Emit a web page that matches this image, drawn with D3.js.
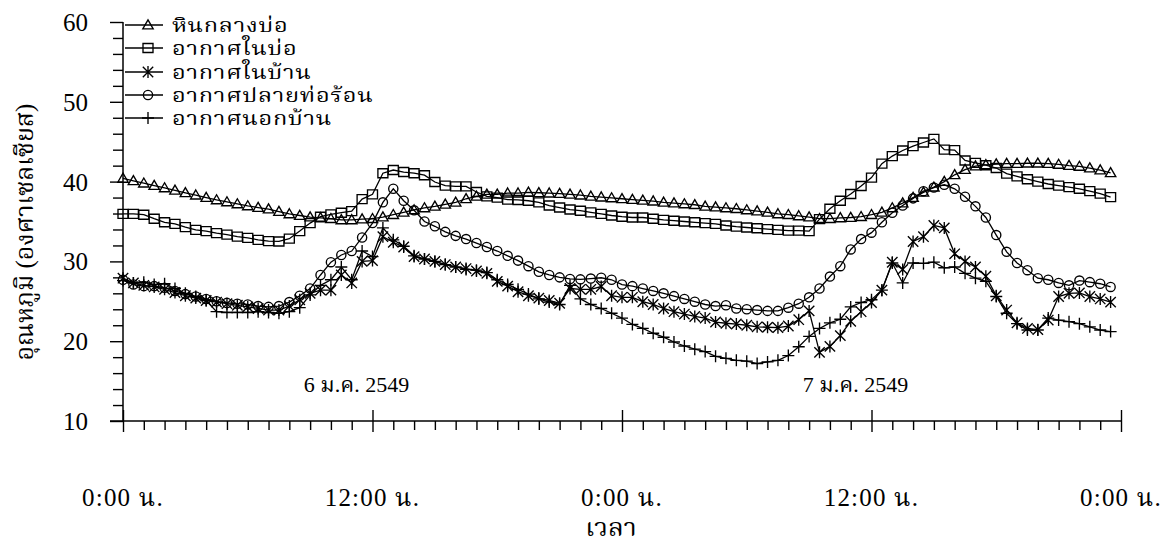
<!DOCTYPE html>
<html>
<head>
<meta charset="utf-8">
<script src="https://cdn.jsdelivr.net/npm/d3@7"></script>
<style>
  body { margin: 0; background: #fff; }
  svg text { font-family: "Liberation Serif", "Times New Roman", "Noto Serif Thai", "Noto Sans Thai", serif; fill: #000; }
</style>
</head>
<body>
<svg id="chart" width="1170" height="541"></svg>
<script>
// Half-hourly readings over two days (hours since 0:00 on 6 Jan 2549)
const hours = d3.range(0, 48, 0.5);

const seriesNames = ["หินกลางบ่อ", "อากาศในบ่อ", "อากาศในบ้าน", "อากาศปลายท่อร้อน", "อากาศนอกบ้าน"];

const rockInPit = [
  40.4, 40.1, 39.8, 39.5, 39.2, 38.9, 38.6, 38.3, 38.0, 37.7, 37.45, 37.2, 36.95, 36.75, 36.55, 36.25, 35.95, 35.75, 35.55, 35.45,
  35.35, 35.2, 35.2, 35.3, 35.35, 35.55, 35.85, 36.15, 36.45, 36.7, 36.9, 37.15, 37.4, 37.85, 38.15, 38.4, 38.4, 38.55, 38.55, 38.65,
  38.6, 38.55, 38.5, 38.4, 38.3, 38.15, 38.05, 37.95, 37.85, 37.75, 37.65, 37.55, 37.4, 37.3, 37.2, 37.1, 36.9, 36.8, 36.7, 36.6,
  36.45, 36.3, 36.15, 35.95, 35.85, 35.7, 35.55, 35.35, 35.35, 35.45, 35.5, 35.6, 35.85, 36.15, 36.7, 37.3, 38.0, 38.65, 39.3, 40.0,
  40.85, 41.5, 41.95, 42.1, 42.2, 42.25, 42.25, 42.3, 42.3, 42.25, 42.15, 42.0, 41.9, 41.7, 41.45, 41.1
];
const airInPit = [
  35.95, 35.95, 35.85, 35.35, 34.9, 34.7, 34.3, 33.95, 33.8, 33.55, 33.35, 33.1, 32.95, 32.7, 32.55, 32.5, 32.85, 33.8, 34.8, 35.6,
  35.9, 36.1, 36.3, 37.8, 38.4, 41.05, 41.45, 41.2, 41.05, 40.8, 39.95, 39.5, 39.4, 39.4, 38.7, 38.15, 38.0, 37.75, 37.7, 37.6,
  37.4, 37.0, 36.75, 36.5, 36.35, 36.15, 35.95, 35.75, 35.6, 35.5, 35.5, 35.35, 35.2, 35.1, 35.0, 34.9, 34.8, 34.7, 34.5, 34.35,
  34.25, 34.15, 34.05, 33.95, 33.85, 33.85, 33.8, 35.3, 36.6, 37.6, 38.45, 39.45, 40.5, 42.25, 43.2, 43.9, 44.45, 44.9, 45.35, 44.0,
  43.95, 42.65, 42.35, 42.05, 41.7, 41.0, 40.65, 40.3, 40.0, 39.7, 39.5, 39.3, 39.1, 38.8, 38.5, 38.05
];
const airInHouse = [
  27.9, 27.3, 27.0, 26.8, 26.5, 26.1, 25.7, 25.4, 25.1, 24.9, 24.7, 24.5, 24.3, 24.1, 23.9, 23.9, 24.4, 25.2, 26.0, 26.4,
  26.4, 28.3, 27.3, 30.0, 30.1, 33.1, 32.4, 31.8, 30.6, 30.3, 30.0, 29.6, 29.3, 29.1, 28.8, 28.5, 27.5, 26.9, 26.2, 25.7,
  25.4, 25.1, 24.75, 26.6, 26.5, 26.5, 26.85, 25.7, 25.5, 25.5, 24.95, 24.6, 24.1, 23.7, 23.4, 23.1, 22.9, 22.4, 22.25, 22.15,
  22.0, 21.8, 21.75, 21.7, 21.9, 22.7, 23.8, 18.6, 19.35, 20.7, 22.5, 23.7, 24.85, 26.4, 29.9, 29.0, 32.5, 33.1, 34.5, 34.2,
  30.95, 30.0, 29.3, 28.15, 25.7, 23.9, 22.3, 21.6, 21.45, 22.65, 25.6, 26.0, 26.05, 25.6, 25.3, 24.9
];
const hotPipeOutlet = [
  27.7, 27.1, 26.9, 26.9, 26.7, 26.3, 25.9, 25.6, 25.3, 25.0, 24.8, 24.7, 24.6, 24.4, 24.3, 24.4, 24.9, 25.7, 26.6, 28.3,
  29.9, 30.8, 31.3, 33.0, 34.8, 37.4, 39.1, 37.6, 36.4, 35.0, 34.4, 33.7, 33.2, 32.8, 32.3, 31.8, 31.3, 30.7, 30.1, 29.4,
  28.7, 28.3, 28.0, 27.8, 27.75, 27.85, 27.95, 27.7, 27.1, 26.9, 26.6, 26.3, 26.0, 25.65, 25.3, 24.95, 24.6, 24.4, 24.5, 24.1,
  24.0, 23.9, 23.8, 23.8, 24.2, 24.7, 25.5, 26.6, 28.1, 29.4, 31.5, 32.8, 33.6, 34.9, 36.1, 37.0, 37.9, 38.8, 39.25, 39.6,
  39.1, 38.1, 36.9, 35.5, 33.3, 31.2, 29.8, 28.9, 27.9, 27.7, 27.3, 27.0, 27.6, 27.4, 27.2, 26.8
];
const outdoorAir = [
  27.6, 27.3, 27.4, 27.1, 27.2, 26.6, 26.0, 25.6, 25.1, 23.7, 23.6, 23.6, 23.6, 23.7, 23.6, 23.5, 23.7, 24.2, 25.8, 27.0,
  27.7, 29.3, 27.7, 31.3, 30.6, 34.2, 32.7, 31.9, 30.7, 30.3, 30.0, 29.6, 29.3, 29.0, 28.9, 28.6, 27.7, 27.1, 26.5, 25.9,
  25.3, 24.9, 24.6, 27.0, 25.3, 24.6, 24.1, 23.5, 22.9, 22.1, 21.6, 21.0, 20.5, 19.9, 19.4, 19.0, 18.7, 18.1, 17.85, 17.6,
  17.5, 17.2, 17.4, 17.6, 18.2, 19.3, 20.6, 21.6, 22.3, 22.75, 24.3, 24.85, 25.2, 26.4, 29.8, 27.3, 29.8, 29.75, 29.9, 29.2,
  29.3, 28.5, 27.9, 27.5, 25.6, 23.5, 22.2, 21.4, 21.4, 22.9, 22.65, 22.45, 22.2, 21.8, 21.4, 21.2
];

const xTickHours = [0, 12, 24, 36, 48];
const xTickLabels = ["0:00 น.", "12:00 น.", "0:00 น.", "12:00 น.", "0:00 น."];
const dateLabels = ["6 ม.ค. 2549", "7 ม.ค. 2549"];
const dateHours = [12, 36];
const yTicks = [10, 20, 30, 40, 50, 60];
const yTitle = "อุณหภูมิ (องศาเซลเซียส)";
const xTitle = "เวลา";

const svg = d3.select("#chart");
const x = d3.scaleLinear().domain([0, 48]).range([123, 1121]);
const y = d3.scaleLinear().domain([10, 60]).range([421, 22]);

// marker shapes (all drawn open)
const markers = {
  triangle: "M0,-5.2L5.2,3.8L-5.2,3.8Z",
  square: "M-5,-4.5H5V4.5H-5Z",
  star: "M0,-6V6M-5.2,-5.2L5.2,5.2M-5.2,5.2L5.2,-5.2",
  circle: "M4.6,0A4.6,4.6 0 1 1 -4.6,0A4.6,4.6 0 1 1 4.6,0Z",
  plus: "M0,-6V6M-6,0H6"
};

const series = [
  { name: seriesNames[0], values: rockInPit, marker: "triangle" },
  { name: seriesNames[1], values: airInPit, marker: "square" },
  { name: seriesNames[2], values: airInHouse, marker: "star" },
  { name: seriesNames[3], values: hotPipeOutlet, marker: "circle" },
  { name: seriesNames[4], values: outdoorAir, marker: "plus" }
];

// axes
const yAxisMajor = d3.axisLeft(y).tickValues(yTicks).tickSize(13).tickFormat(d3.format("d"));
const yAxisMinor = d3.axisLeft(y).tickValues(d3.range(12, 60, 2).filter(v => v % 10 !== 0)).tickSize(10).tickFormat("");
const xAxisMinor = d3.axisBottom(x).tickValues(d3.range(1, 48, 1).filter(h => h % 12 !== 0)).tickSize(9).tickFormat("");
const xAxisMajor = d3.axisBottom(x).tickValues(xTickHours).tickSize(11).tickFormat("");

const gy = svg.append("g").attr("transform", `translate(${x(0)},0)`).call(yAxisMajor);
gy.selectAll("text").attr("font-size", 25).attr("x", -35).attr("dy", "0.34em");
svg.append("g").attr("transform", `translate(${x(0)},0)`).call(yAxisMinor);

svg.append("g").attr("transform", `translate(0,${y(10)})`).call(xAxisMinor);
const gxM = svg.append("g").attr("transform", `translate(0,${y(10)})`).call(xAxisMajor);
// major ticks also reach above the axis line
gxM.selectAll(".tick line").attr("y1", -11);

svg.selectAll(".domain").remove();
svg.selectAll(".tick line").attr("stroke", "#000").attr("stroke-width", 1.4);

// axis lines
svg.append("line").attr("x1", x(0)).attr("x2", x(0)).attr("y1", y(60)).attr("y2", y(10))
  .attr("stroke", "#000").attr("stroke-width", 1.5);
svg.append("line").attr("x1", x(0) - 13).attr("x2", x(48)).attr("y1", y(10)).attr("y2", y(10))
  .attr("stroke", "#000").attr("stroke-width", 1.5);

// x tick labels
svg.append("g").selectAll("text").data(xTickHours).join("text")
  .attr("x", d => x(d)).attr("y", 506).attr("text-anchor", "middle").attr("font-size", 25)
  .attr("letter-spacing", 1.2)
  .text((d, i) => xTickLabels[i]);

// date labels
svg.append("g").selectAll("text").data(dateHours).join("text")
  .attr("x", d => x(d) - 16).attr("y", 392).attr("text-anchor", "middle").attr("font-size", 22)
  .text((d, i) => dateLabels[i]);

// axis titles
svg.append("text").attr("transform", "translate(611,536) scale(1.1,1)").attr("text-anchor", "middle")
  .attr("font-size", 24).text(xTitle);
svg.append("text").attr("transform", "translate(33,232) rotate(-90)").attr("text-anchor", "middle")
  .attr("font-size", 25).text(yTitle);

// series lines and markers
const line = d3.line().x((d, i) => x(hours[i])).y(d => y(d));
const plot = svg.append("g");
series.forEach(s => {
  plot.append("path").attr("d", line(s.values)).attr("fill", "none").attr("stroke", "#000").attr("stroke-width", 1.3);
  plot.append("g").selectAll("path").data(s.values).join("path")
    .attr("transform", (d, i) => `translate(${x(hours[i])},${y(d)})`)
    .attr("d", markers[s.marker]).attr("fill", "none").attr("stroke", "#000").attr("stroke-width", 1.35);
});

// legend
const legend = svg.append("g");
const legendRows = [25, 48, 72, 95, 118];
series.forEach((s, i) => {
  const ly = legendRows[i];
  legend.append("line").attr("x1", x(0) + 2).attr("x2", 163).attr("y1", ly).attr("y2", ly)
    .attr("stroke", "#000").attr("stroke-width", 1.3);
  legend.append("path").attr("transform", `translate(148,${ly})`).attr("d", markers[s.marker])
    .attr("fill", "none").attr("stroke", "#000").attr("stroke-width", 1.35);
  legend.append("text").attr("transform", `translate(172,${ly}) scale(1.18,1)`).attr("dy", "0.35em")
    .attr("font-size", 20).attr("letter-spacing", 0.6).text(s.name);
});
</script>
</body>
</html>
